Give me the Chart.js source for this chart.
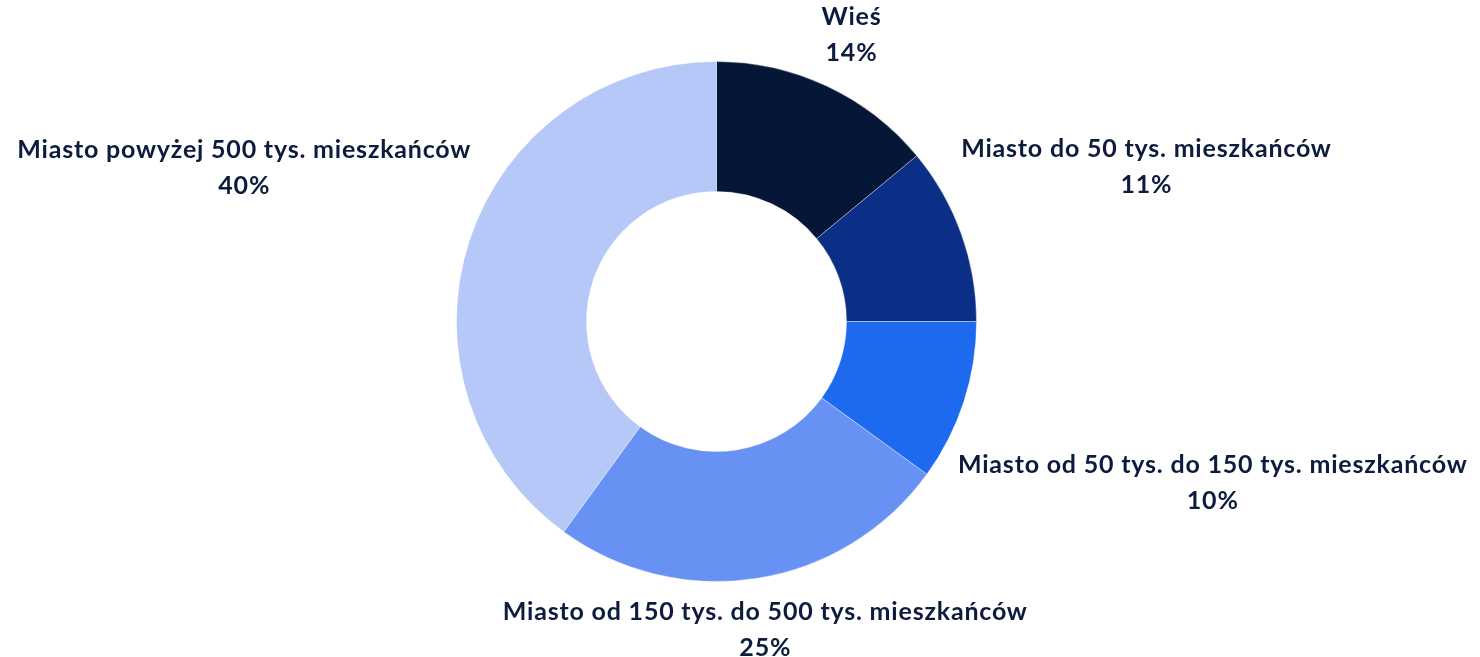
<!DOCTYPE html>
<html>
<head>
<meta charset="utf-8">
<script src="https://cdn.jsdelivr.net/npm/chart.js@4"></script>
<style>
  html, body { margin: 0; padding: 0; background: #fff; }
  #wrap { width: 1480px; height: 657px; }
</style>
</head>
<body>
<div id="wrap"><canvas id="chart"></canvas></div>
<script>
// dane
const categories = [
  'Wieś',
  'Miasto do 50 tys. mieszkańców',
  'Miasto od 50 tys. do 150 tys. mieszkańców',
  'Miasto od 150 tys. do 500 tys. mieszkańców',
  'Miasto powyżej 500 tys. mieszkańców'
];
const shares = [14, 11, 10, 25, 40];
const sliceColors = ['#061637', '#0b2f86', '#1d6aef', '#6891f4', '#b5c8f8'];

const textColor = '#0d1b3e';
const labelFont = 'bold 25px Lato, "Open Sans", sans-serif';
const lineHeight = 36;
const labelGap = 12;

// najbliższy punkt prostokąta (środek cx,cy) do środka wykresu
function nearestDist(cx, cy, w, h) {
  const nx = Math.min(Math.max(0, cx - w / 2), cx + w / 2);
  const ny = Math.min(Math.max(0, cy - h / 2), cy + h / 2);
  return Math.hypot(nx, ny);
}

// etykiety poza wykresem, na promieniu przez środek wycinka
const outsideLabels = {
  id: 'outsideLabels',
  afterDatasetsDraw(chart) {
    const ctx = chart.ctx;
    const meta = chart.getDatasetMeta(0);
    ctx.save();
    ctx.font = labelFont;
    ctx.letterSpacing = '0.8px';
    ctx.fillStyle = textColor;
    ctx.textAlign = 'center';
    ctx.textBaseline = 'middle';
    meta.data.forEach((arc, i) => {
      const { x, y, startAngle, endAngle, outerRadius } = arc.getProps(['x', 'y', 'startAngle', 'endAngle', 'outerRadius'], true);
      const mid = (startAngle + endAngle) / 2;
      const ux = Math.cos(mid), uy = Math.sin(mid);
      const lines = [categories[i], shares[i] + '%'];
      const w = Math.max(...lines.map(l => ctx.measureText(l).width));
      const h = lines.length * lineHeight;
      const target = outerRadius + labelGap;
      // szukanie odległości, przy której ramka etykiety dotyka okręgu
      let lo = 0, hi = outerRadius + w + h;
      for (let k = 0; k < 40; k++) {
        const d = (lo + hi) / 2;
        if (nearestDist(ux * d, uy * d, w, h) < target) lo = d; else hi = d;
      }
      const cx = x + ux * hi;
      const cy = y + uy * hi;
      lines.forEach((l, k) => {
        ctx.fillText(l, cx, cy - h / 2 + lineHeight * (k + 0.5));
      });
    });
    ctx.restore();
  }
};

new Chart(document.getElementById('chart'), {
  type: 'doughnut',
  data: {
    labels: categories,
    datasets: [{
      data: shares,
      backgroundColor: sliceColors,
      borderColor: 'rgba(255,255,255,0.35)',
      borderWidth: 1
    }]
  },
  options: {
    responsive: true,
    maintainAspectRatio: false,
    animation: false,
    cutout: '50%',
    layout: { padding: { top: 61, bottom: 75, left: 456, right: 503 } },
    plugins: {
      legend: { display: false },
      tooltip: { enabled: false }
    }
  },
  plugins: [outsideLabels]
});
</script>
</body>
</html>
